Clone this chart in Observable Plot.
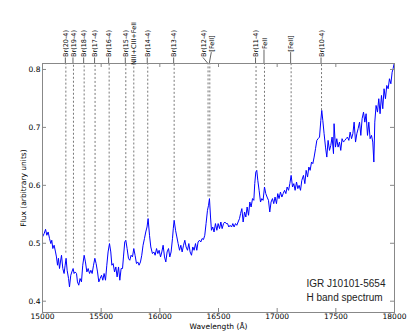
<!DOCTYPE html>
<html><head><meta charset="utf-8">
<script src="https://cdn.jsdelivr.net/npm/d3@7"></script>
<script src="https://cdn.jsdelivr.net/npm/@observablehq/plot@0.6"></script>
<style>body{margin:0;background:#fff} svg{display:block}</style>
</head><body><div id="chart"></div>
<script>
const wavelength = [15000,15014,15026,15037,15048,15060,15071,15079,15088,15099,15111,15119,15128,15136,15145,15153,15162,15173,15184,15193,15201,15210,15222,15230,15241,15250,15261,15269,15278,15290,15298,15309,15320,15332,15343,15355,15366,15378,15389,15401,15412,15423,15435,15446,15457,15469,15480,15491,15503,15514,15525,15537,15548,15559,15571,15582,
15591,15602,15614,15625,15636,15648,15659,15670,15682,15690,15701,15710,15721,15733,15744,15755,15767,15778,15789,15801,15812,15823,15835,15846,15857,15869,15880,15891,15900,15912,15923,15937,15949,15960,15972,15983,15994,16006,16017,16028,16040,16051,16062,16074,16085,16096,16108,16115,16122,
16134,16145,16156,16168,16179,16190,16202,16213,16224,16236,16247,16258,16270,16281,16292,16304,16315,16326,16338,16349,16360,16372,16383,16394,16406,16415,16423,16432,16440,16451,16462,16474,16486,16497,16509,16520,16531,16543,16554,16565,16577,16588,16599,16611,16622,16633,16645,16656,16667,16679,
16688,16699,16710,16722,16733,16744,16756,16767,16778,16790,16801,16809,16818,16826,16835,16846,16858,16869,16880,16892,16903,16914,16926,16937,16948,16960,16971,16982,16994,17005,17016,17028,17040,17051,17063,17074,17085,17097,17108,17119,17131,17142,17153,17165,17176,17187,17199,17210,
17224,17236,17247,17259,17270,17281,17293,17304,17315,17327,17338,17349,17361,17372,17380,17389,17400,17412,17423,17434,17446,17457,17468,17480,17485,17497,17508,17519,17531,17542,17553,17565,17576,17588,17599,17611,17622,17634,17645,17656,17668,17679,17690,17702,
17713,17724,17736,17747,17758,17770,17781,17792,17804,17815,17824,17832,17843,17855,17866,17877,17889,17900,17911,17923,17934,17946,17957,17969,17980,17988,17997];

const flux = [0.5109,0.5167,0.5241,0.5138,0.5195,0.5081,0.4995,0.5052,0.4909,0.4966,0.4850,0.4764,0.4621,0.4741,0.4564,0.4678,0.4793,0.4564,0.4478,0.4621,0.4741,0.4534,0.4391,0.4247,0.4448,0.4505,0.4564,0.4478,0.4505,0.4478,0.4333,0.4276,0.4391,0.4333,0.4621,0.4793,0.4678,0.4505,0.4564,0.4478,0.4534,0.4478,0.4621,0.4741,0.4650,0.4505,0.4333,0.4391,0.4448,0.4362,0.4478,0.4362,0.4621,0.4850,0.4995,0.4850,
0.4621,0.4650,0.4505,0.4591,0.4419,0.4591,0.4362,0.4564,0.4564,0.4764,0.5022,0.5052,0.4909,0.4736,0.4707,0.4793,0.4764,0.4909,0.4793,0.4650,0.4678,0.4621,0.4678,0.4793,0.4966,0.5081,0.5195,0.5281,0.5426,0.5138,0.4936,0.4822,0.4850,0.4793,0.4909,0.4822,0.4879,0.4764,0.4850,0.4966,0.4764,0.4678,0.4850,0.4909,0.4764,0.4850,0.5086,0.5259,0.5397,
0.5224,0.5109,0.4995,0.4879,0.4966,0.4850,0.4966,0.5052,0.4936,0.4879,0.4995,0.4850,0.4793,0.4936,0.4879,0.4995,0.4879,0.5022,0.5052,0.5022,0.5081,0.5064,0.5138,0.5340,0.5569,0.5655,0.5771,0.5453,0.5224,0.5281,0.5195,0.5340,0.5224,0.5340,0.5253,0.5367,0.5253,0.5340,0.5367,0.5340,0.5340,0.5281,0.5310,0.5281,0.5340,0.5281,0.5340,0.5310,0.5367,0.5426,
0.5512,0.5598,0.5367,0.5540,0.5453,0.5626,0.5483,0.5712,0.5626,0.5771,0.5741,0.6029,0.6229,0.6259,0.6086,0.5914,0.5712,0.5771,0.5741,0.5971,0.5857,0.5798,0.5741,0.5540,0.5712,0.5771,0.5684,0.5798,0.5684,0.5857,0.5771,0.5884,0.5798,0.5857,0.5914,0.5857,0.5971,0.5914,0.6029,0.6172,0.5971,0.6029,0.5914,0.6057,0.5943,0.6000,0.5914,0.6086,
0.6172,0.6029,0.6259,0.6143,0.6316,0.6259,0.6402,0.6374,0.6488,0.6633,0.6776,0.6805,0.6833,0.7121,0.7293,0.7121,0.6891,0.6660,0.6488,0.6776,0.6603,0.6690,0.6833,0.6547,0.7064,0.6660,0.6805,0.6660,0.6747,0.6603,0.6805,0.6747,0.6776,0.6805,0.6833,0.6776,0.6919,0.6805,0.6891,0.7091,0.6747,0.6891,0.6978,0.7091,
0.6862,0.7150,0.7264,0.7091,0.7236,0.6862,0.7091,0.6805,0.6862,0.6747,0.6402,0.7091,0.7379,0.7264,0.7495,0.7236,0.7552,0.7322,0.7667,0.7495,0.7724,0.7667,0.7840,0.7753,0.7953,0.8012,0.8100];

const lineNames = ["Br(20-4)","Br(19-4)","Br(18-4)","Br(17-4)","Br(16-4)","Br(15-4)","NIII+CIII+FeII","Br(14-4)","Br(13-4)","Br(12-4)","[FeII]","Br(11-4)","FeII","[FeII]","Br(10-4)"];
const lineWavelength = [15199,15264,15355,15448,15568,15710,15778,15897,16122,16411,16426,16820,16892,17119,17378];
const lineEndFlux = [0.483,0.4655,0.485,0.479,0.502,0.508,0.497,0.545,0.543,0.580,0.580,0.629,0.600,0.620,0.729];
const labelDx = [0,0,0,0,0,0,0,0,0,-4.6,2,0,0,0,0];

const xTicks = [15000,15500,16000,16500,17000,17500,18000];
const yTicks = [0.4,0.5,0.6,0.7,0.8];
const xDomain = [15000, 18000];
const yDomain = [0.3805, 0.8103];
const xLabel = "Wavelength (Å)";
const yLabel = "Flux (arbitrary units)";
const annotation = ["IGR J10101-5654", "H band spectrum"];

const spectrum = wavelength.map((w, i) => ({w, f: flux[i]}));
const lines = lineNames.map((name, i) => ({name, w: lineWavelength[i], end: lineEndFlux[i], dx: labelDx[i]}));

const W = 415, H = 333, mL = 42, mR = 21, mT = 63, mB = 21;
const plotH = H - mT - mB, plotW = W - mL - mR;
const font = "DejaVu Sans";
const frameColor = "#888";
const labelFont = 6.5, labelCenterOffset = 20;

const labelOpts = {x: "w", text: "name", frameAnchor: "top", dy: -labelCenterOffset, rotate: -90, textAnchor: "middle", lineAnchor: "middle", fontSize: labelFont, fill: "#000"};
const labelMarks = [
  Plot.text(lines.filter(d => d.dx === 0), labelOpts),
  ...lines.filter(d => d.dx !== 0).map(d => Plot.text([d], {...labelOpts, dx: d.dx}))
];

const plot = Plot.plot({
  width: W, height: H, marginLeft: mL, marginRight: mR, marginTop: mT, marginBottom: mB,
  style: {fontFamily: font, fontSize: "7.5px", background: "#fff", overflow: "visible", color: "#000"},
  x: {domain: xDomain},
  y: {domain: yDomain},
  marks: [
    Plot.ruleX(lines, {x: "w", y1: "end", y2: () => yDomain[1], stroke: "#6a6a6a", strokeDasharray: "2,2", strokeWidth: 0.9}),
    Plot.line(spectrum, {x: "w", y: "f", stroke: "#0000ff", strokeWidth: 1, clip: true}),
    Plot.frame({stroke: frameColor}),
    Plot.tickX(xTicks, {x: d => d, insetTop: plotH - 4, stroke: frameColor}),
    Plot.tickX(xTicks, {x: d => d, insetBottom: plotH - 4, stroke: frameColor}),
    Plot.tickY(yTicks, {y: d => d, insetRight: plotW - 4, stroke: frameColor}),
    Plot.tickY(yTicks, {y: d => d, insetLeft: plotW - 4, stroke: frameColor}),
    Plot.axisX({ticks: xTicks, tickSize: 0, tickPadding: 1.5, tickFormat: d => String(d), label: null, fontSize: 7.5}),
    Plot.axisY({ticks: yTicks, tickSize: 0, tickPadding: 2, tickFormat: d => d.toFixed(1), label: null, fontSize: 7.5}),
    Plot.text([xLabel], {text: d => d, frameAnchor: "bottom", dy: 14, lineAnchor: "middle", fontSize: 7.5}),
    Plot.text([yLabel], {text: d => d, frameAnchor: "left", dx: -19, rotate: -90, lineAnchor: "middle", textAnchor: "middle", fontSize: 7.5}),
    Plot.text([annotation.join("\n")], {text: d => d, frameAnchor: "bottom-right", textAnchor: "start", lineAnchor: "bottom", dx: -88, dy: -12, lineHeight: 1.4, fontSize: 10, fontFamily: "Liberation Sans", fill: "#222"}),
    ...labelMarks
  ]
});

document.getElementById("chart").appendChild(plot);

// connectors between rotated labels and the dashed lines
const xs = plot.scale("x");
const ctx = document.createElement("canvas").getContext("2d");
ctx.font = `${labelFont}px '${font}'`;
const svg = d3.select(plot);
lines.forEach(d => {
  const len = ctx.measureText(d.name).width;
  const yb = mT - labelCenterOffset + len / 2 + 1;
  if (yb < mT - 1) {
    svg.append("line")
      .attr("x1", xs.apply(d.w) + d.dx).attr("y1", yb)
      .attr("x2", xs.apply(d.w)).attr("y2", mT)
      .attr("stroke", "#666").attr("stroke-width", 1);
  }
});
</script>
</body></html>
